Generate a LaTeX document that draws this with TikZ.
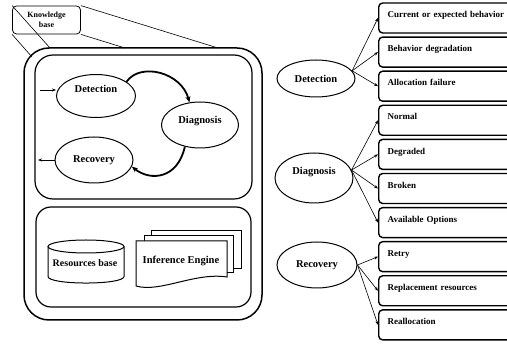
\documentclass[tikz,border=0pt]{standalone}
\usepackage{fontspec}
\setmainfont{Liberation Serif}
\usetikzlibrary{shapes.geometric}
\usetikzlibrary{arrows.meta}

\begin{document}
\begin{tikzpicture}[x=1pt,y=-1pt,
    phase/.style={draw, ellipse, line width=1pt, inner sep=0pt,
      font=\fontsize{10.5}{12}\selectfont\bfseries},
    outcome/.style={draw, rounded corners=4pt, line width=1.4pt, anchor=west,
      minimum width=142pt, minimum height=30pt, text width=124pt, inner xsep=9pt,
      text depth=7pt, align=left, font=\fontsize{9}{11}\selectfont\bfseries},
    link/.style={-{Stealth[length=4pt,width=3pt]}, line width=0.6pt},
    cyclearrow/.style={-{Stealth[length=6pt,width=5pt]}, line width=1.8pt},
    panel/.style={rounded corners=18pt, line width=1.2pt},
    docpage/.style={draw, fill=white, line width=1pt}]

  \useasboundingbox (0,0) rectangle (507,347);
  \clip (0,0) rectangle (507,347);

  % Knowledge base container
  \draw[line width=1.5pt, rounded corners=25pt] (24,48) rectangle (262,320);
  \draw[panel] (35,55) rectangle (252,199);
  \draw[panel, rounded corners=15pt] (36,207) rectangle (251,307);

  % Knowledge base callout
  \node[draw, rounded corners=4pt, line width=0.8pt, minimum width=68pt, minimum height=28pt,
    align=center, font=\fontsize{8}{10}\selectfont\bfseries] (kb) at (46.5,20) {Knowledge\\base};
  \coordinate (c1) at (50,48);
  \coordinate (c2) at (32,57);
  \coordinate (c3) at (218,48);
  \coordinate (c4) at (125,48);
  \draw[line width=0.6pt] (kb.north west) -- (c1);
  \draw[line width=0.6pt] (kb.south west) -- (c2);
  \draw[line width=0.6pt] (kb.north east) -- (c3);
  \draw[line width=0.6pt] (kb.south east) -- (c4);

  % Detection - diagnosis - recovery loop
  \node[phase, minimum width=79pt, minimum height=43pt, text depth=14pt] (det) at (96,96) {Detection};
  \node[phase, minimum width=77pt, minimum height=46pt, text depth=10pt] (diag) at (200,125) {Diagnosis};
  \node[phase, minimum width=78pt, minimum height=46pt] (rec) at (94,160) {Recovery};
  \draw[cyclearrow] (det.25) .. controls +(14,-20) and +(-8,-30) .. (diag.115);
  \draw[cyclearrow] (diag.235) .. controls +(-7,32) and +(19,15) .. (rec.350);
  \coordinate (in) at (40,90);
  \coordinate (out) at (38,160);
  \draw[link] (in) -- (in -| det.west);
  \draw[link] (rec.west) -- (out);

  % Resources base
  \draw[line width=1pt] (48,246.5) -- (48,276.5) .. controls (48,285.2) and (124,285.2) .. (124,276.5) -- (124,246.5);
  \draw[line width=1pt] (86,246.5) ellipse [x radius=38, y radius=6.5];
  \node[font=\fontsize{10}{12}\selectfont\bfseries] (res) at (85,263) {Resources base};

  % Inference engine
  \draw[docpage] (151,231) rectangle (241,269);
  \draw[docpage] (144,236) rectangle (233,273);
  \draw[docpage] (136,241) -- (227,241) -- (227,277) .. controls (195,272) and (160,293) .. (136,286) -- cycle;
  \node[font=\fontsize{10.5}{12}\selectfont\bfseries] (inf) at (181,261) {Inference Engine};

  % Right hand side
  \node[phase, minimum width=78pt, minimum height=37pt] (rdet) at (316,78.5) {Detection};
  \node[phase, minimum width=78pt, minimum height=50pt, text depth=14pt] (rdiag) at (314,178) {Diagnosis};
  \node[phase, minimum width=80pt, minimum height=46pt] (rrec) at (317,265) {Recovery};

  \foreach \name/\txt [count=\i from 0] in {cur/Current or expected behavior, bdeg/Behavior degradation,
      afail/Allocation failure, norm/Normal, degr/Degraded, brok/Broken, avail/Available Options,
      retry/Retry, repl/Replacement resources, realloc/Reallocation}
    \node[outcome] (\name) at (378,{18+34.1*\i}) {\txt};

  \foreach \t in {cur,bdeg,afail}
    \draw[link] (rdet.12) -- (\t.west);
  \foreach \t in {norm,degr,brok,avail}
    \draw[link] (rdiag.12) -- (\t.west);
  \foreach \t in {retry,repl,realloc}
    \draw[link] (rrec.east) -- (\t.west);

\end{tikzpicture}
\end{document}
